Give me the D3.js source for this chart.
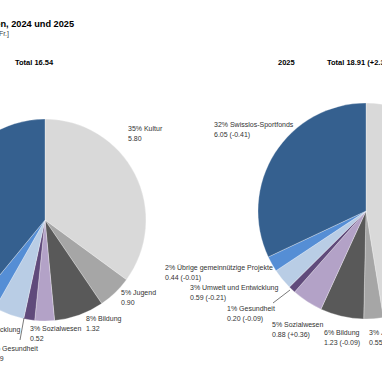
<!DOCTYPE html>
<html>
<head>
<meta charset="utf-8">
<script src="https://cdn.jsdelivr.net/npm/d3@7"></script>
<style>
  body { margin: 0; background: #fff; }
  svg { display: block; font-family: "Liberation Sans", Arial, sans-serif; }
</style>
</head>
<body>
<div id="chart"></div>
<script>
// data (Mio. Fr.), clockwise from 12 o'clock
var categories = ["Kultur", "Jugend", "Bildung", "Sozialwesen", "Gesundheit",
  "Umwelt und Entwicklung", "Übrige gemeinnützige Projekte", "Swisslos-Sportfonds"];
var values2024 = [5.80, 0.90, 1.32, 0.52, 0.29, 0.80, 0.45, 6.46];
var values2025 = [8.97, 0.55, 1.23, 0.88, 0.20, 0.59, 0.44, 6.05];
var pct2024 = [35, 5, 8, 3, 2, 5, 3, 39];
var pct2025 = [47, 3, 6, 5, 1, 3, 2, 32];
var change2025 = ["+3.17", "-0.35", "-0.09", "+0.36", "-0.09", "-0.21", "-0.01", "-0.41"];
var totals = [16.54, 18.91];
var totalChange = "+2.37";

var colors = ["#d9d9d9", "#a6a6a6", "#595959", "#b3a2c7", "#604a7b", "#b9cde5", "#558ed5", "#35608f"];

// label anchor points (first line baseline), layout only
var labelPos2024 = [[128, 131], [121, 295], [86, 321], [30, 331], [-10, 351], [-68, 332], [-120, 300], [-150, 130]];
var labelPos2025 = [[400, 130], [369, 335], [324, 335], [272, 327], [227, 311], [190, 290], [165, 270], [214, 127]];

var width = 382, height = 382;

var svg = d3.select("#chart")
  .append("svg")
    .attr("width", width)
    .attr("height", height);

// title
svg.append("text").attr("x", 74).attr("y", 27).attr("text-anchor", "end")
  .style("font-size", "9.2px").style("font-weight", "bold")
  .text("Swisslos-Fonds: Verteilung der Mittel nach Bereichen, 2024 und 2025");
svg.append("text").attr("x", 9).attr("y", 36).attr("text-anchor", "end")
  .style("font-size", "7px").style("fill", "#404040")
  .text("[in Mio. Fr.]");

var rScale = d3.scaleSqrt().domain([0, d3.max(totals)]).range([0, 108]);

var pie = d3.pie().sort(null).value(function(d) { return d; });

function drawPie(cx, cy, values, total, labelPos, labelText) {
  var r = rScale(total);
  var arc = d3.arc().innerRadius(0).outerRadius(r);
  var g = svg.append("g").attr("transform", "translate(" + cx + "," + cy + ")");
  g.selectAll("path")
    .data(pie(values))
    .enter()
    .append("path")
      .attr("d", arc)
      .style("fill", function(d, i) { return colors[i]; })
      .style("stroke", "#fff")
      .style("stroke-width", 0.3);

  var lab = svg.selectAll(null)
    .data(values)
    .enter()
    .append("text")
      .attr("x", function(d, i) { return labelPos[i][0]; })
      .attr("y", function(d, i) { return labelPos[i][1]; })
      .style("font-size", "7px")
      .style("fill", "#333");
  lab.append("tspan").text(function(d, i) { return labelText(i)[0]; });
  lab.append("tspan")
    .attr("x", function(d, i) { return labelPos[i][0]; })
    .attr("dy", 10)
    .text(function(d, i) { return labelText(i)[1]; });
  return arc;
}

// 2024
svg.append("text").attr("x", -40).attr("y", 65).style("font-size", "7.5px").style("font-weight", "bold").text("2024");
svg.append("text").attr("x", 15).attr("y", 65).style("font-size", "7.5px").style("font-weight", "bold")
  .text("Total " + totals[0].toFixed(2));
drawPie(45, 220, values2024, totals[0], labelPos2024, function(i) {
  return [pct2024[i] + "% " + categories[i], values2024[i].toFixed(2)];
});

// 2025
svg.append("text").attr("x", 278).attr("y", 65).style("font-size", "7.5px").style("font-weight", "bold").text("2025");
svg.append("text").attr("x", 327).attr("y", 65).style("font-size", "7.5px").style("font-weight", "bold")
  .text("Total " + totals[1].toFixed(2) + " (" + totalChange + ")");
drawPie(366, 211, values2025, totals[1], labelPos2025, function(i) {
  return [pct2025[i] + "% " + categories[i], values2025[i].toFixed(2) + " (" + change2025[i] + ")"];
});

// leader lines for the small Gesundheit slices
svg.append("line").attr("x1", 24).attr("y1", 318).attr("x2", 20).attr("y2", 340)
  .style("stroke", "#404040").style("stroke-width", 0.7);
svg.append("line").attr("x1", 290).attr("y1", 290).attr("x2", 273).attr("y2", 303)
  .style("stroke", "#404040").style("stroke-width", 0.7);
</script>
</body>
</html>
